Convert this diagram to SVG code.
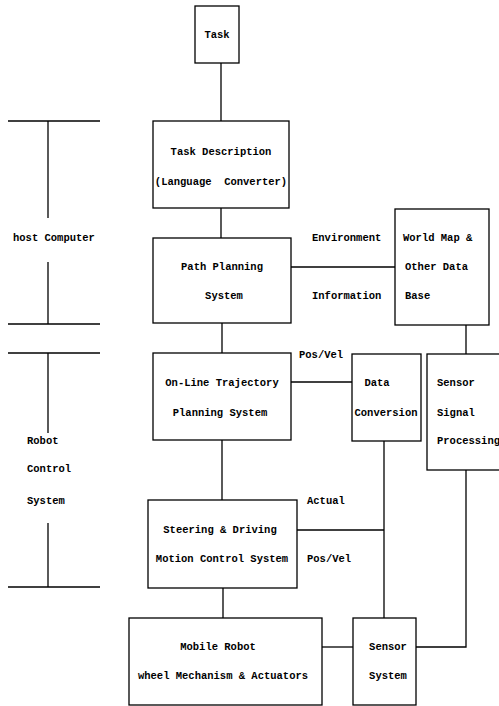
<svg xmlns="http://www.w3.org/2000/svg" width="499" height="706" viewBox="0 0 499 706">
<style>
.b{fill:#fff;stroke:#000;stroke-width:1.3}
.l{fill:none;stroke:#000;stroke-width:1.3}
text{font-family:"Liberation Mono","DejaVu Sans Mono",monospace;font-size:10.5px;font-weight:bold;fill:#000;dominant-baseline:central;white-space:pre}
.c{text-anchor:middle}
</style>
<rect width="499" height="706" fill="#fff"/>
<g id="connectors">
<line class="l" x1="221" y1="63" x2="221" y2="121"/>
<line class="l" x1="221" y1="208" x2="221" y2="238"/>
<line class="l" x1="291" y1="267" x2="395" y2="267"/>
<line class="l" x1="222" y1="323" x2="222" y2="353"/>
<line class="l" x1="466" y1="325" x2="466" y2="354"/>
<line class="l" x1="291" y1="382" x2="352" y2="382"/>
<line class="l" x1="222" y1="440" x2="222" y2="500"/>
<line class="l" x1="384" y1="441" x2="384" y2="618"/>
<line class="l" x1="297" y1="530" x2="384" y2="530"/>
<line class="l" x1="223" y1="588" x2="223" y2="618"/>
<line class="l" x1="322" y1="647" x2="353" y2="647"/>
<polyline class="l" points="416,647 466,647 466,470"/>
</g>
<g id="labels">
<text x="312" y="238">Environment</text>
<text x="312" y="296">Information</text>
<text x="299" y="355">Pos/Vel</text>
<text x="307" y="501">Actual</text>
<text x="307" y="559">Pos/Vel</text>
</g>
<g id="side">
<line class="l" x1="8" y1="121" x2="100" y2="121"/>
<line class="l" x1="48" y1="121" x2="48" y2="218"/>
<text x="13" y="238">host Computer</text>
<line class="l" x1="48" y1="262" x2="48" y2="324"/>
<line class="l" x1="8" y1="324" x2="100" y2="324"/>
<line class="l" x1="8" y1="353" x2="100" y2="353"/>
<line class="l" x1="48" y1="353" x2="48" y2="433"/>
<text x="27" y="441">Robot</text>
<text x="27" y="469">Control</text>
<text x="27" y="501">System</text>
<line class="l" x1="48" y1="523" x2="48" y2="587"/>
<line class="l" x1="8" y1="587" x2="100" y2="587"/>
</g>
<g id="task">
<rect class="b" x="195" y="6" width="44" height="57"/>
<text class="c" x="217" y="35">Task</text>
</g>
<g id="taskDescription">
<rect class="b" x="153" y="121" width="136" height="87"/>
<text class="c" x="221" y="152">Task Description</text>
<text class="c" x="221" y="182">(Language  Converter)</text>
</g>
<g id="pathPlanning">
<rect class="b" x="153" y="238" width="138" height="85"/>
<text class="c" x="222" y="267">Path Planning</text>
<text class="c" x="224" y="296">System</text>
</g>
<g id="worldMap">
<rect class="b" x="395" y="209" width="94" height="116"/>
<text x="403" y="238">World Map &amp;</text>
<text x="405" y="267">Other Data</text>
<text x="405" y="296">Base</text>
</g>
<g id="onLineTrajectory">
<rect class="b" x="153" y="353" width="138" height="87"/>
<text class="c" x="222" y="383">On-Line Trajectory</text>
<text class="c" x="220" y="413">Planning System</text>
</g>
<g id="dataConversion">
<rect class="b" x="352" y="354" width="69" height="87"/>
<text class="c" x="377" y="383">Data</text>
<text class="c" x="386" y="413">Conversion</text>
</g>
<g id="sensorSignal">
<rect class="b" x="427" y="354" width="80" height="116"/>
<text x="437" y="383">Sensor</text>
<text x="437" y="413">Signal</text>
<text x="437" y="441">Processing</text>
</g>
<g id="steering">
<rect class="b" x="148" y="500" width="149" height="88"/>
<text class="c" x="220" y="530">Steering &amp; Driving</text>
<text class="c" x="222" y="559">Motion Control System</text>
</g>
<g id="mobileRobot">
<rect class="b" x="129" y="618" width="193" height="87"/>
<text class="c" x="218" y="647">Mobile Robot</text>
<text class="c" x="223" y="676">wheel Mechanism &amp; Actuators</text>
</g>
<g id="sensorSystem">
<rect class="b" x="353" y="618" width="63" height="87"/>
<text class="c" x="388" y="647">Sensor</text>
<text class="c" x="388" y="676">System</text>
</g>
</svg>
